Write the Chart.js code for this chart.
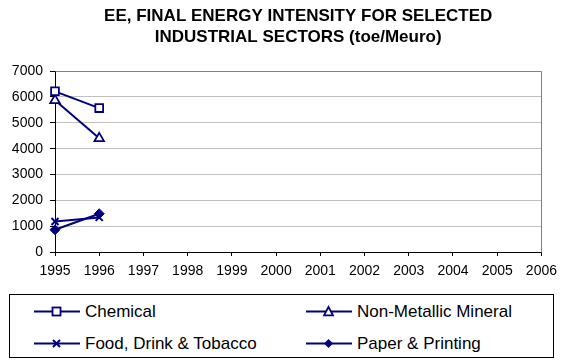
<!DOCTYPE html>
<html>
<head>
<meta charset="utf-8">
<script src="https://cdn.jsdelivr.net/npm/chart.js@4/dist/chart.umd.min.js"></script>
<style>
  html, body { margin: 0; padding: 0; background: #fff; }
  #wrap { position: relative; width: 564px; height: 360px; font-family: Arial, "Liberation Sans", sans-serif; }
  #c { position: absolute; left: 0; top: 0; }
  #legend { position: absolute; left: 9px; top: 294px; width: 545px; height: 64px; border: 1px solid #000; box-sizing: border-box; }
  .item { position: absolute; height: 22px; font-size: 17px; color: #000; line-height: 22px; white-space: nowrap; }
  .item svg { position: absolute; left: 0; top: 0; }
  .item span { position: absolute; left: 51px; top: 0; }
</style>
</head>
<body>
<div id="wrap">
  <canvas id="c" width="564" height="290"></canvas>
  <div id="legend"></div>
</div>
<script>
const years = ['1995','1996','1997','1998','1999','2000','2001','2002','2003','2004','2005','2006'];
const chemical = [6220, 5570];
const nonMetallic = [5870, 4400];
const foodDrink = [1180, 1340];
const paperPrinting = [860, 1480];
const seriesNames = ['Chemical', 'Non-Metallic Mineral', 'Food, Drink & Tobacco', 'Paper & Printing'];
const yTicks = [0, 1000, 2000, 3000, 4000, 5000, 6000, 7000];
const titleLines = ['EE, FINAL ENERGY INTENSITY FOR SELECTED', 'INDUSTRIAL SECTORS (toe/Meuro)'];

const navy = '#000080';
const fontFam = 'Arial, "Liberation Sans", sans-serif';
function ds(label, data, style, fill, radius, bw) {
  return {
    label, data,
    borderColor: navy, borderWidth: 2,
    pointStyle: style, pointRadius: radius,
    pointBorderColor: navy, pointBorderWidth: bw,
    pointBackgroundColor: fill,
    tension: 0, fill: false
  };
}

const borderPlugin = {
  id: 'areaBorder',
  beforeDatasetsDraw(chart) {
    const a = chart.chartArea, ctx = chart.ctx;
    ctx.save();
    ctx.strokeStyle = '#808080';
    ctx.lineWidth = 1;
    ctx.beginPath();
    ctx.moveTo(Math.round(a.left) + 0.5, Math.round(a.top) + 0.5);
    ctx.lineTo(Math.round(a.right) + 0.5, Math.round(a.top) + 0.5);
    ctx.lineTo(Math.round(a.right) + 0.5, Math.round(a.bottom) + 0.5);
    ctx.stroke();
    ctx.restore();
  }
};

new Chart(document.getElementById('c'), {
  type: 'line',
  data: {
    labels: years,
    datasets: [
      ds(seriesNames[0], chemical, 'rect', '#ffffff', 5.5, 1.8),
      ds(seriesNames[1], nonMetallic, 'triangle', '#ffffff', 5.5, 1.8),
      ds(seriesNames[2], foodDrink, 'crossRot', navy, 5, 2),
      ds(seriesNames[3], paperPrinting, 'rectRot', navy, 5, 1)
    ]
  },
  options: {
    responsive: false,
    animation: false,
    devicePixelRatio: 1,
    layout: { padding: { left: 0, right: 18, top: 0, bottom: 0 } },
    plugins: {
      legend: { display: false },
      tooltip: { enabled: false },
      title: {
        display: true,
        fullSize: false,
        text: titleLines,
        color: '#000',
        font: { family: fontFam, size: 17, weight: 'bold', lineHeight: 1.24 },
        padding: { top: 6, bottom: 23 }
      }
    },
    scales: {
      x: {
        type: 'category',
        offset: false,
        grid: { display: true, drawOnChartArea: false, drawTicks: true, tickLength: 4, tickColor: '#000', color: '#000' },
        border: { display: true, color: '#000', width: 1 },
        ticks: { color: '#000', font: { family: fontFam, size: 14 }, padding: 7, maxRotation: 0, autoSkip: false },
        afterFit(scale) { scale.height = 38; }
      },
      y: {
        min: 0, max: 7000,
        afterBuildTicks(scale) { scale.ticks = yTicks.map(v => ({ value: v })); },
        grid: { color: '#c0c0c0', drawTicks: true, tickLength: 5, tickColor: '#000' },
        border: { display: true, color: '#000', width: 1 },
        ticks: { color: '#000', font: { family: fontFam, size: 14 }, padding: 7, callback: v => String(v) },
        afterFit(scale) { scale.width = 55; }
      }
    }
  },
  plugins: [borderPlugin]
});

// legend (HTML)
const markers = [
  '<rect x="18.5" y="6.5" width="8" height="8" fill="#fff" stroke="' + navy + '" stroke-width="1.8"/>',
  '<polygon points="22.5,6 27,14.3 18,14.3" fill="#fff" stroke="' + navy + '" stroke-width="1.8"/>',
  '<path d="M19 7 L26 14 M26 7 L19 14" stroke="' + navy + '" stroke-width="2"/>',
  '<polygon points="22.5,6 27,10.5 22.5,15 18,10.5" fill="' + navy + '"/>'
];
const pos = [[24, 6], [296, 6], [24, 38], [296, 38]];
const leg = document.getElementById('legend');
seriesNames.forEach((n, i) => {
  const d = document.createElement('div');
  d.className = 'item';
  d.style.left = pos[i][0] + 'px';
  d.style.top = pos[i][1] + 'px';
  d.innerHTML = '<svg width="48" height="22"><line x1="0" y1="10.5" x2="46" y2="10.5" stroke="' + navy + '" stroke-width="2"/>' + markers[i] + '</svg><span>' + n.replace('&', '&amp;') + '</span>';
  leg.appendChild(d);
});
</script>
</body>
</html>
